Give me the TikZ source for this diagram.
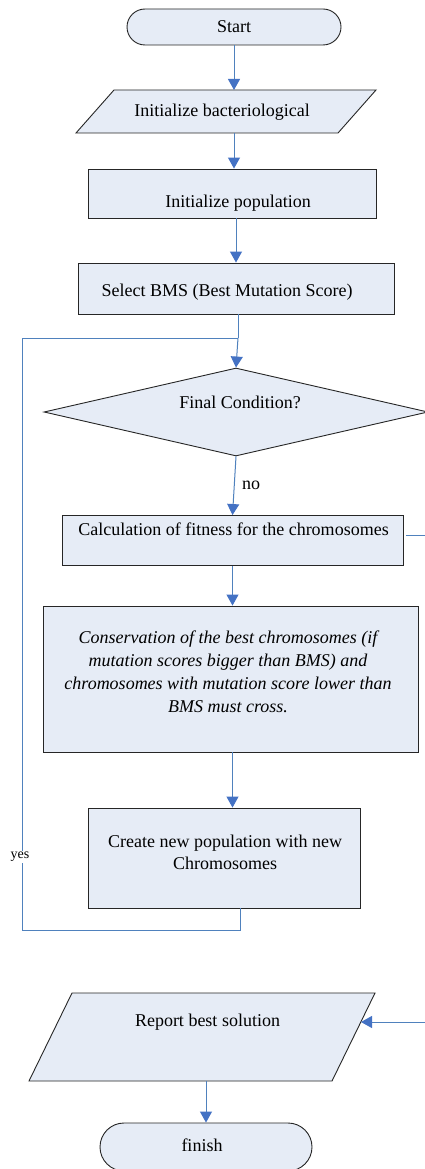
\documentclass[tikz,border=0pt]{standalone}
\usepackage{fontspec}
\setmainfont{Liberation Serif}
\usetikzlibrary{shapes.geometric,shapes.misc,arrows.meta,calc}
\definecolor{fillblue}{RGB}{230,236,246}
\definecolor{lineblue}{RGB}{79,129,189}
\definecolor{tipblue}{RGB}{68,114,196}
\begin{document}
\begin{tikzpicture}[x=1pt,y=-1pt,
  font=\fontsize{18}{22}\selectfont,
  shapebox/.style={draw=black!85, line width=0.9pt, fill=fillblue, inner sep=0pt},
  procbox/.style={shapebox, rectangle},
  term/.style={shapebox, rounded rectangle},
  iobox/.style={draw=black!85, line width=0.9pt, fill=fillblue},
  decision/.style={shapebox, diamond},
  txt/.style={inner sep=0pt, align=center},
  flow/.style={draw=lineblue, line width=1pt, -{Triangle[length=11pt,width=12pt,color=tipblue]}},
  connector/.style={draw=lineblue, line width=1pt}]
\path[use as bounding box] (0,0) rectangle (425,1169);
\fill[white] (0,0) rectangle (425,1169);
\clip (0,0) rectangle (425,1169);

% shapes
\node[term, minimum width=214pt, minimum height=36pt] (start) at (234,27) {};
\draw[iobox] (114,90) -- (376,90) -- (338,133) -- (76,133) -- cycle;
\coordinate (p1n) at (234,90);
\coordinate (p1s) at (234,133);
\node[procbox, minimum width=288pt, minimum height=49pt] (b2) at (232,193.5) {};
\node[procbox, minimum width=316pt, minimum height=51pt] (b3) at (236,288.5) {};
\node[decision, minimum width=384pt, minimum height=88pt] (dia) at (236,412) {};
\node[procbox, minimum width=341pt, minimum height=50pt] (calc) at (232.5,540.5) {};
\node[procbox, minimum width=375pt, minimum height=146pt] (ital) at (230.5,679) {};
\node[procbox, minimum width=272pt, minimum height=100pt] (create) at (224,858) {};
\draw[iobox] (72,993) -- (375,993) -- (332,1081) -- (29,1081) -- cycle;
\coordinate (repE) at (361,1022);
\coordinate (repS) at (207,1081);
\node[term, minimum width=212pt, minimum height=48pt] (fin) at (206,1147) {};

% texts
\node[txt] (tstart) at (234,27) {Start};
\node[txt] (tp1) at (222,112) {Initialize bacteriological};
\node[txt] (tb2) at (238,203) {Initialize population};
\node[txt] (tb3) at (227,292) {Select BMS (Best Mutation Score)};
\node[txt] (tdia) at (240,402) {Final Condition?};
\node[txt] (tcalc) at (233.5,529) {Calculation of fitness for the chromosomes};
\node[txt, font=\fontsize{18}{23}\selectfont\itshape] (tital) at (228,672)
  {Conservation of the best chromosomes (if\\ mutation scores bigger than BMS) and\\ chromosomes with mutation score lower than\\ BMS must cross.};
\node[txt] (tcreate) at (225,852.5) {Create new population with new\\ Chromosomes};
\node[txt] (trep) at (207.5,1022) {Report best solution};
\node[txt] (tfin) at (202,1145) {finish};

% helper coordinates
\coordinate (join) at (238,338);
\coordinate (loopA) at (22,930);
\coordinate (edge1) at (426,535);
\coordinate (edge2) at (426,1022);

% connectors
\draw[flow] (start.south) -- (p1n);
\draw[flow] (p1s) -- (p1s |- b2.north);
\draw[flow] (b3.north |- b2.south) -- (b3.north);
\draw[connector] (join |- b3.south) -- (join);
\draw[flow] (join) -- (dia.north);
\draw[flow] (dia.south) -- (calc.north);
\draw[flow] (calc.south) -- (calc.south |- ital.north);
\draw[flow] (calc.south |- ital.south) -- (calc.south |- create.north);
\draw[connector] ([xshift=16pt]create.south) |- (loopA) |- (join);
\draw[connector] ($(calc.east)+(3,-5.5)$) -- (edge1);
\draw[flow] (edge2) -- (repE);
\draw[flow] (fin.north |- repS) -- (fin.north);

\node[txt, fill=white, inner sep=1.5pt, font=\fontsize{14}{16}\selectfont] (yes) at (20,857) {yes};
\node[txt] (no) at (251,485) {no};
\end{tikzpicture}
\end{document}
